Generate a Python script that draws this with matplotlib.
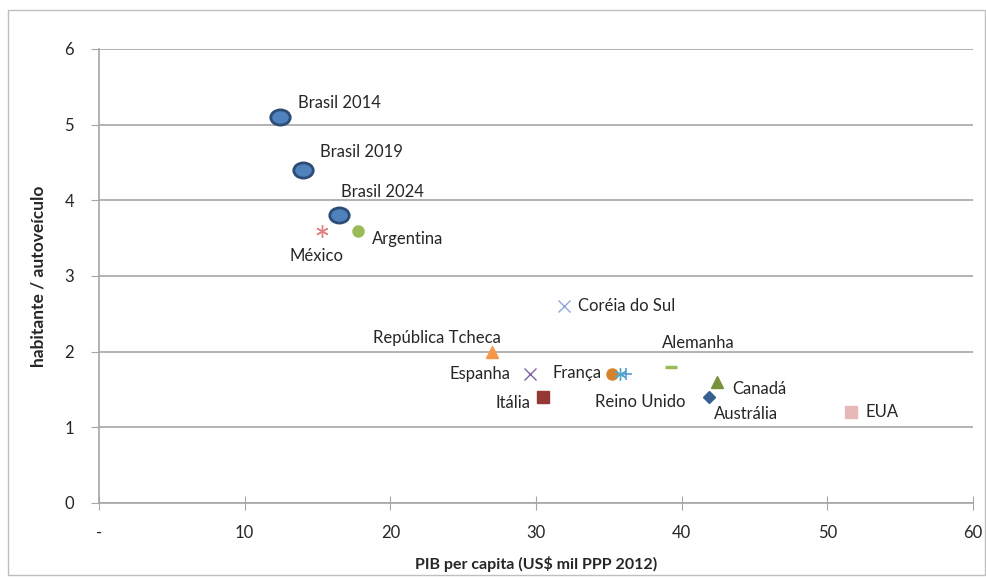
import matplotlib
matplotlib.use("Agg")
import matplotlib.pyplot as plt
from matplotlib.patches import Rectangle
from matplotlib.path import Path

# PIB per capita (US$ mil PPP 2012) x habitantes por autoveículo
paises = ["Brasil 2014", "Brasil 2019", "Brasil 2024", "México", "Argentina",
          "Coréia do Sul", "República Tcheca", "Espanha", "Itália", "França",
          "Japão", "Reino Unido", "Alemanha", "Canadá", "Austrália", "EUA"]
pib = [12.4, 14.0, 16.5, 15.3, 17.8, 31.9, 27.0, 29.6, 30.5, 35.2,
       35.8, 36.2, 39.3, 42.4, 41.9, 51.6]
hab_veic = [5.1, 4.4, 3.8, 3.6, 3.6, 2.6, 2.0, 1.7, 1.4, 1.7,
            1.7, 1.7, 1.8, 1.6, 1.4, 1.2]
rotulos = ["Brasil 2014", "Brasil 2019", "Brasil 2024", "México", "Argentina",
           "Coréia do Sul", "República Tcheca", "Espanha", "Itália", "França",
           "", "Reino Unido", "Alemanha", "Canadá", "Austrália", "EUA"]

x_ticks = [0, 10, 20, 30, 40, 50, 60]
x_ticklabels = ["-", "10", "20", "30", "40", "50", "60"]
y_ticks = [0, 1, 2, 3, 4, 5, 6]

# elipse achatada para os pontos do Brasil
_c = Path.unit_circle()
elipse = Path(_c.vertices * [1.0, 0.78], _c.codes)
asterisco = (6, 2, 0)

# estilo de cada marcador: (marker, face, edge, size, lw)
estilos = {
    "Brasil 2014": (elipse, "#4F81BD", "#2C4D75", 14, 2.0),
    "Brasil 2019": (elipse, "#4F81BD", "#2C4D75", 14, 2.0),
    "Brasil 2024": (elipse, "#4F81BD", "#2C4D75", 14, 2.0),
    "México": (asterisco, "none", "#E0807E", 9, 1.0),
    "Argentina": ("o", "#9BBB59", "#9BBB59", 8, 1.0),
    "Coréia do Sul": ("x", "none", "#8EA9DB", 8, 1.0),
    "República Tcheca": ("^", "#F79646", "#F79646", 8, 1.0),
    "Espanha": ("x", "none", "#8064A2", 8, 1.0),
    "Itália": ("s", "#953735", "#953735", 8, 1.0),
    "França": ("o", "#D9822B", "#D9822B", 8, 1.0),
    "Japão": (asterisco, "none", "#4BACC6", 9, 1.0),
    "Reino Unido": ("+", "none", "#5B9BD5", 9, 1.2),
    "Alemanha": ("_", "none", "#9BBB59", 9, 2.5),
    "Canadá": ("^", "#77933C", "#77933C", 8, 1.0),
    "Austrália": ("D", "#366092", "#366092", 6, 1.0),
    "EUA": ("s", "#E6B9B8", "#E6B9B8", 8, 1.0),
}

# deslocamento dos rótulos (pontos) e alinhamento
offsets = {
    "Brasil 2014": ((13, 10), "left"),
    "Brasil 2019": ((12, 13), "left"),
    "Brasil 2024": ((1, 17), "left"),
    "México": ((-4, -18), "center"),
    "Argentina": ((10, -6), "left"),
    "Coréia do Sul": ((10, 0), "left"),
    "República Tcheca": ((-40, 10), "center"),
    "Espanha": ((-14, 0), "right"),
    "Itália": ((-9, -4), "right"),
    "França": ((-7, 1), "right"),
    "": ((0, 0), "left"),
    "Reino Unido": ((10, -20), "center"),
    "Alemanha": ((-7, 17), "left"),
    "Canadá": ((11, -5), "left"),
    "Austrália": ((3, -12), "left"),
    "EUA": ((11, 0), "left"),
}

plt.rcParams['font.family'] = ['Lato', 'DejaVu Sans']
cor_texto = "#262626"
cor_grade = "#A6A6A6"

fig = plt.figure(figsize=(9.87, 5.79), dpi=100)
ax = fig.add_axes([0.1003, 0.1313, 0.8855, 0.7841])

# moldura externa do gráfico
fig.patches.append(Rectangle((0.008, 0.007), 0.99, 0.975, transform=fig.transFigure,
                             fill=False, edgecolor="#BFBFBF", linewidth=1))

for nome, x, y, rot in zip(paises, pib, hab_veic, rotulos):
    mk, fc, ec, ms, lw = estilos[nome]
    ax.plot(x, y, linestyle="none", marker=mk, markersize=ms,
            markerfacecolor=fc, markeredgecolor=ec, markeredgewidth=lw,
            zorder=3)
    if rot:
        (dx, dy), ha = offsets[rot]
        ax.annotate(rot, (x, y), xytext=(dx, dy), textcoords="offset points",
                    ha=ha, va="center", fontsize=12, color=cor_texto)

ax.set_xlim(0, 60)
ax.set_ylim(0, 6)
ax.set_xticks(x_ticks)
ax.set_xticklabels(x_ticklabels)
ax.set_yticks(y_ticks)
ax.yaxis.grid(True, color=cor_grade, linewidth=1.2)
ax.set_axisbelow(True)

for s in ["top", "right"]:
    ax.spines[s].set_visible(False)
for s in ["left", "bottom"]:
    ax.spines[s].set_color(cor_grade)
    ax.spines[s].set_linewidth(1.2)

ax.tick_params(axis="x", direction="inout", length=10, color=cor_grade,
               labelsize=12, labelcolor=cor_texto, pad=11)
ax.tick_params(axis="y", direction="out", length=6, color=cor_grade,
               labelsize=12, labelcolor=cor_texto, pad=12)

ax.set_xlabel("PIB per capita (US$ mil PPP 2012)", fontsize=11.5,
              fontweight="bold", color=cor_texto, labelpad=11)
ax.set_ylabel("habitante / autoveículo", fontsize=12.5, fontweight="bold",
              color=cor_texto, labelpad=13)

fig.savefig("out.png", dpi=100)
